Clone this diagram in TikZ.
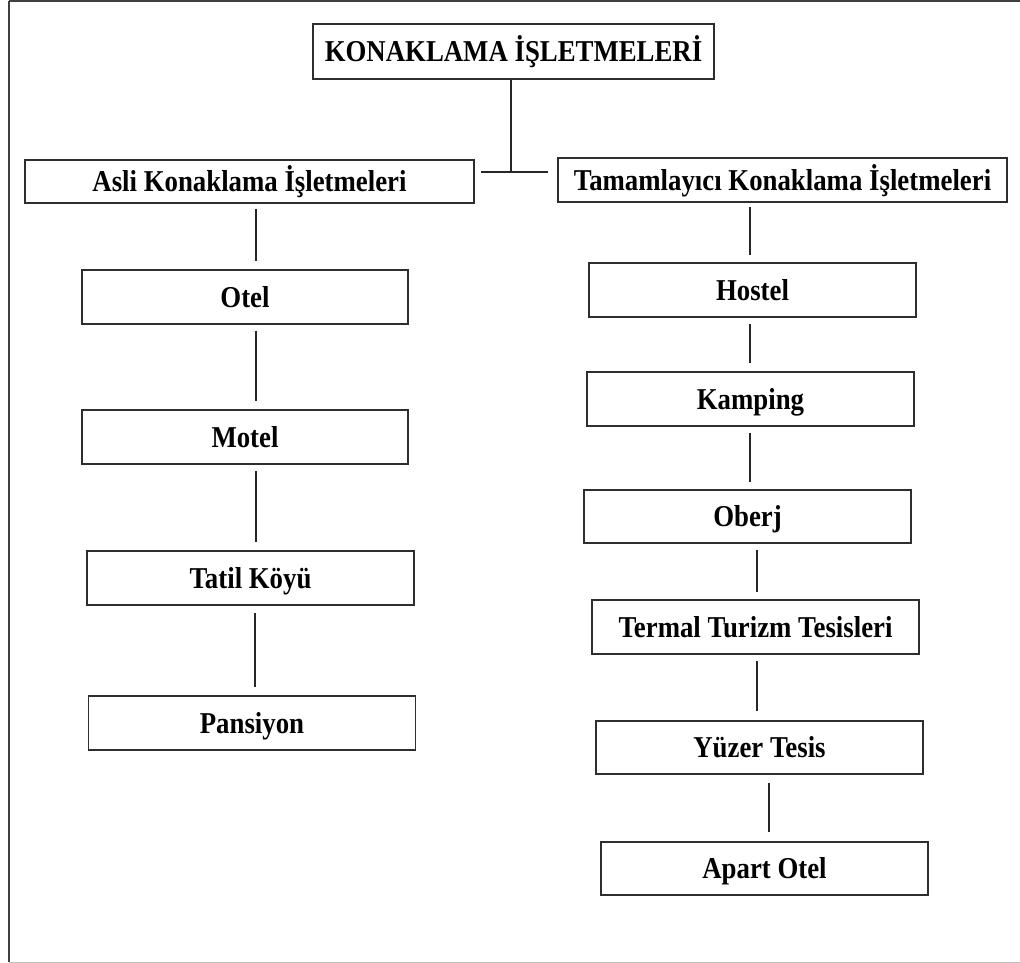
\documentclass[tikz,border=0pt]{standalone}
\usepackage{fontspec}
\usepackage{graphicx}
\setmainfont{Liberation Serif}
\newcommand{\tallt}[1]{\scalebox{1}[1.13]{#1}}
\begin{document}
\begin{tikzpicture}[x=1pt,y=-1pt,
  bx/.style={draw=black!82, line width=1.6pt, inner sep=0pt, minimum height=54pt,
    minimum width=327pt, text height=20pt, text depth=0pt,
    font=\fontsize{26.8pt}{30pt}\selectfont\bfseries},
  conn/.style={draw=black!85, line width=1.5pt}]
\useasboundingbox (0,0) rectangle (1020,963);
\fill[white] (0,0) rectangle (1020,963);
% frame
\draw[black!75, line width=2pt] (9,1.5) -- (1020,1.5);
\draw[black!75, line width=2pt] (9,1) -- (9,962);
\draw[black!25, line width=1pt] (9,962) -- (1020,962);

% nodes
\node[bx, minimum width=401pt, minimum height=55pt] (top) at (513.5,51.5) {\tallt{KONAKLAMA İŞLETMELERİ}};
\node[bx, minimum width=449pt, minimum height=43pt] (asli) at (249.5,181.5) {\tallt{Asli Konaklama İşletmeleri}};
\node[bx, minimum width=449pt, minimum height=44pt] (tam) at (782.5,180) {\tallt{Tamamlayıcı Konaklama İşletmeleri}};

\node[bx, minimum width=326pt] (otel) at (245,297) {\tallt{Otel}};
\node[bx, minimum width=326pt] (motel) at (245,437) {\tallt{Motel}};
\node[bx] (tatil) at (250.5,578) {\tallt{Tatil Köyü}};
\node[bx] (pans) at (252,723) {\tallt{Pansiyon}};

\node[bx] (hostel) at (752.5,290) {\tallt{Hostel}};
\node[bx] (kamp) at (750.5,399) {\tallt{Kamping}};
\node[bx, minimum height=53pt] (oberj) at (747.5,516.5) {\tallt{Oberj}};
\node[bx] (termal) at (755.5,627) {\tallt{Termal Turizm Tesisleri}};
\node[bx, minimum height=53pt] (yuzer) at (759.5,747.5) {\tallt{Yüzer Tesis}};
\node[bx, minimum height=53pt] (apart) at (764.5,868.5) {\tallt{Apart Otel}};

% column coordinates
\coordinate (j) at (511,172);
\coordinate (L1) at (256,0);
\coordinate (L2) at (255,0);
\coordinate (R1) at (750,0);
\coordinate (R2) at (757,0);
\coordinate (R3) at (769,0);

% connectors
\draw[conn] (top.south -| j) -- (j);
\draw[conn] ([xshift=6pt]asli.east |- j) -- ([xshift=-9pt]tam.west |- j);

\draw[conn] ([yshift=-5pt]asli.south -| L1) -- ([yshift=8pt]otel.north -| L1);
\draw[conn] ([yshift=-6pt]otel.south -| L1) -- ([yshift=8pt]motel.north -| L1);
\draw[conn] ([yshift=-6pt]motel.south -| L1) -- ([yshift=8pt]tatil.north -| L1);
\draw[conn] ([yshift=-7pt]tatil.south -| L2) -- ([yshift=8pt]pans.north -| L2);

\draw[conn] ([yshift=-4pt]tam.south -| R1) -- ([yshift=7pt]hostel.north -| R1);
\draw[conn] ([yshift=-6pt]hostel.south -| R1) -- ([yshift=8pt]kamp.north -| R1);
\draw[conn] ([yshift=-6pt]kamp.south -| R1) -- ([yshift=7pt]oberj.north -| R1);
\draw[conn] ([yshift=-6pt]oberj.south -| R2) -- ([yshift=7pt]termal.north -| R2);
\draw[conn] ([yshift=-6pt]termal.south -| R2) -- ([yshift=9pt]yuzer.north -| R2);
\draw[conn] ([yshift=-8pt]yuzer.south -| R3) -- ([yshift=9pt]apart.north -| R3);
\end{tikzpicture}
\end{document}
